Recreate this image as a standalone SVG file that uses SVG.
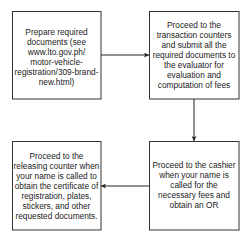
<svg xmlns="http://www.w3.org/2000/svg" width="250" height="242" viewBox="0 0 250 242">
<defs>
<style>
.box{fill:#fff;stroke:#333;stroke-width:1}
.t{font-family:"Liberation Sans",Arial,sans-serif;font-size:8.3px;fill:#222;text-anchor:middle}
.c{fill:none;stroke:#222;stroke-width:1}
</style>
<marker id="ah" viewBox="0 0 10 10" refX="10" refY="5" markerWidth="5" markerHeight="5" orient="auto" markerUnits="userSpaceOnUse">
<path d="M0,0 L10,5 L0,10 L2.5,5 Z" fill="#222"/>
</marker>
</defs>
<rect width="250" height="242" fill="#fff"/>
<g id="connectors">
<path class="c" d="M101,55 L149,55" marker-end="url(#ah)"/>
<path class="c" d="M194,99 L194,141" marker-end="url(#ah)"/>
<path class="c" d="M149,186 L101,186" marker-end="url(#ah)"/>
</g>
<g id="n1">
<rect class="box" x="12.5" y="11.5" width="88.5" height="87.5"/>
<text class="t" x="56.5" y="35.3">Prepare required</text>
<text class="t" x="56.5" y="45.3">documents (see</text>
<text class="t" x="56.5" y="55.3">www.lto.gov.ph/</text>
<text class="t" x="56.5" y="65.3">motor-vehicle-</text>
<text class="t" x="56.5" y="75.3">registration/309-brand-</text>
<text class="t" x="56.5" y="85.3">new.html)</text>
</g>
<g id="n2">
<rect class="box" x="149.5" y="11.5" width="89.5" height="87.5"/>
<text class="t" x="194" y="28">Proceed to the</text>
<text class="t" x="194" y="38">transaction counters</text>
<text class="t" x="194" y="48">and submit all the</text>
<text class="t" x="194" y="58">required documents to</text>
<text class="t" x="194" y="68">the evaluator for</text>
<text class="t" x="194" y="78">evaluation and</text>
<text class="t" x="194" y="88">computation of fees</text>
</g>
<g id="n3">
<rect class="box" x="12.5" y="141.5" width="88.5" height="88.5"/>
<text class="t" x="56.5" y="159">Proceed to the</text>
<text class="t" x="56.5" y="169">releasing counter when</text>
<text class="t" x="56.5" y="179">your name is called to</text>
<text class="t" x="56.5" y="189">obtain the certificate of</text>
<text class="t" x="56.5" y="199">registration, plates,</text>
<text class="t" x="56.5" y="209">stickers, and other</text>
<text class="t" x="56.5" y="219">requested documents.</text>
</g>
<g id="n4">
<rect class="box" x="149.5" y="141.5" width="89.5" height="88.5"/>
<text class="t" x="194" y="168">Proceed to the cashier</text>
<text class="t" x="194" y="178">when your name is</text>
<text class="t" x="194" y="188">called for the</text>
<text class="t" x="194" y="198">necessary fees and</text>
<text class="t" x="194" y="208">obtain an OR</text>
</g>
</svg>
